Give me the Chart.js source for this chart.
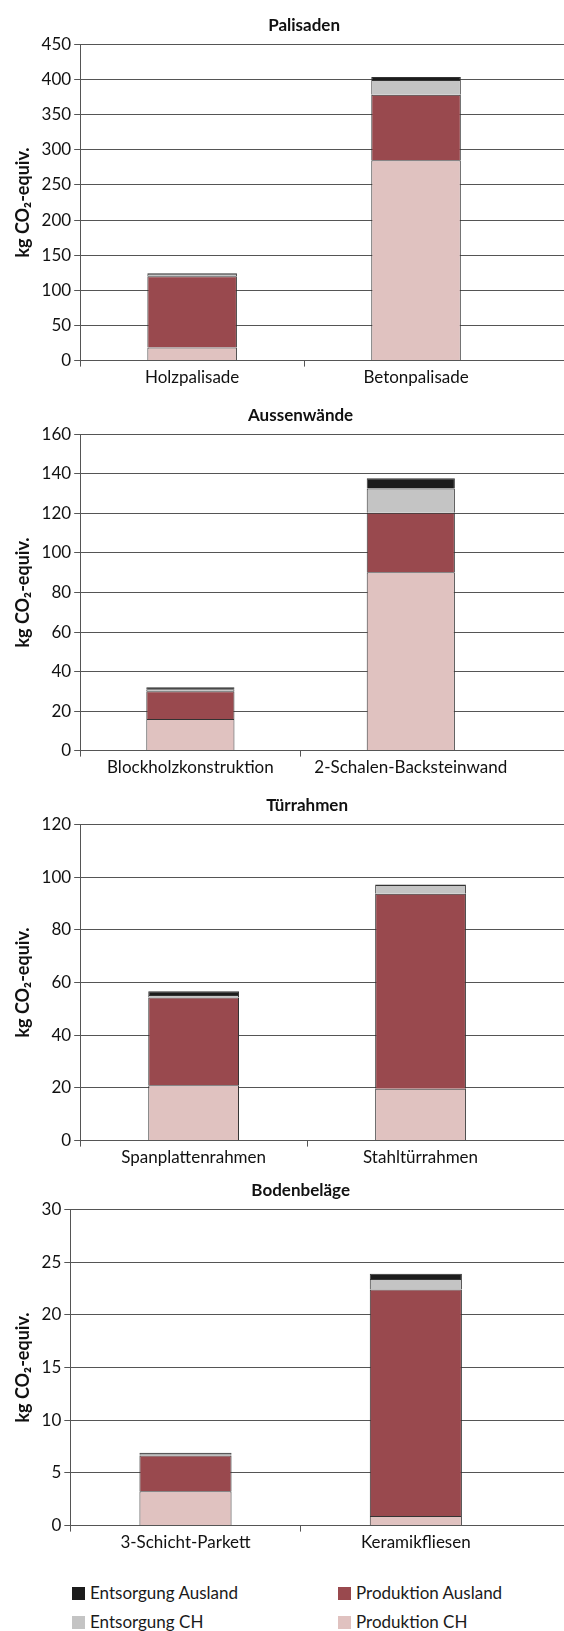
<!DOCTYPE html>
<html>
<head>
<meta charset="utf-8">
<script src="https://cdn.jsdelivr.net/npm/chart.js@4.4.1/dist/chart.umd.min.js"></script>
<style>
body{margin:0;width:564px;height:1631px;overflow:hidden;background:#fff;position:relative}
.box{position:absolute;left:0;width:564px;height:390px}
.leg{position:absolute;font-family:Lato,sans-serif;font-size:17px;color:#1a1a1a;line-height:20px;white-space:nowrap}
.leg span{display:inline-block;width:13px;height:13px;margin-right:5px;vertical-align:-1px}
</style>
</head>
<body>
<div class="box" style="top:0"><canvas id="c1"></canvas></div>
<div class="box" style="top:390px"><canvas id="c2"></canvas></div>
<div class="box" style="top:780px"><canvas id="c3"></canvas></div>
<div class="box" style="top:1165px"><canvas id="c4"></canvas></div>
<div id="legend"></div>
<script>
// series names, bottom to top of the stack
const seriesNames = ['Produktion CH', 'Produktion Ausland', 'Entsorgung CH', 'Entsorgung Ausland'];
const seriesColors = ['#e0c2c0', '#99494e', '#c4c4c4', '#1c1c1c'];

// Palisaden
const palCats = ['Holzpalisade', 'Betonpalisade'];
const palProdCH = [18.5, 285];
const palProdAus = [101.5, 93.5];
const palEntCH = [3.5, 21];
const palEntAus = [1.2, 4];

// Aussenwände
const wandCats = ['Blockholzkonstruktion', '2-Schalen-Backsteinwand'];
const wandProdCH = [16, 90.3];
const wandProdAus = [14, 30];
const wandEntCH = [1, 12.3];
const wandEntAus = [1, 5.2];

// Türrahmen
const tuerCats = ['Spanplattenrahmen', 'Stahltürrahmen'];
const tuerProdCH = [21, 19.7];
const tuerProdAus = [33.3, 74];
const tuerEntCH = [1, 3.3];
const tuerEntAus = [1.4, 0.2];

// Bodenbeläge
const bodenCats = ['3-Schicht-Parkett', 'Keramikfliesen'];
const bodenProdCH = [3.25, 0.9];
const bodenProdAus = [3.4, 21.5];
const bodenEntCH = [0.13, 1.0];
const bodenEntAus = [0.13, 0.5];

const fam = 'Lato, sans-serif';
const gridCol = '#555';

// horizontal grid lines run on past the plot area to the right edge
const gridExtend = {
  id: 'gridExtend',
  beforeDatasetsDraw(chart) {
    const y = chart.scales.y;
    const a = chart.chartArea;
    const ctx = chart.ctx;
    ctx.save();
    ctx.strokeStyle = gridCol;
    ctx.lineWidth = 1;
    y.ticks.forEach(function (t) {
      const py = Math.round(y.getPixelForValue(t.value) - 0.5) + 0.5;
      ctx.beginPath();
      ctx.moveTo(a.right - 1, py);
      ctx.lineTo(chart.width, py);
      ctx.stroke();
    });
    ctx.restore();
  }
};

function makeChart(id, title, cats, yMax, yStep, vals, rightPad) {
  const sets = [];
  for (let i = 0; i < seriesNames.length; i++) {
    sets.push({
      label: seriesNames[i],
      data: vals[i],
      backgroundColor: seriesColors[i],
      borderColor: '#333',
      borderWidth: 1,
      barPercentage: 0.4,
      categoryPercentage: 1
    });
  }
  return new Chart(document.getElementById(id), {
    type: 'bar',
    data: { labels: cats, datasets: sets },
    plugins: [gridExtend],
    options: {
      responsive: true,
      maintainAspectRatio: false,
      animation: false,
      layout: { padding: { left: 0, right: rightPad, top: 0, bottom: 1 } },
      plugins: {
        legend: { display: false },
        tooltip: { enabled: false },
        title: {
          display: true, text: title, fullSize: false, color: '#111',
          font: { family: fam, size: 17, weight: 'bold' },
          padding: { top: 15, bottom: 9 }
        }
      },
      scales: {
        x: {
          stacked: true,
          grid: {
            drawOnChartArea: false, drawTicks: true, tickLength: 6, offset: true,
            color: gridCol,
            // the tick at the far right end is not shown in the original
            tickColor: function (c) { return c.type === 'tick' ? gridCol : 'rgba(0,0,0,0)'; }
          },
          border: { color: gridCol },
          ticks: { font: { family: fam, size: 17 }, color: '#111', padding: 1, maxRotation: 0 }
        },
        y: {
          stacked: true, min: 0, max: yMax,
          ticks: { stepSize: yStep, font: { family: fam, size: 17 }, color: '#111', padding: 3 },
          grid: { color: gridCol, tickLength: 6 },
          border: { color: gridCol },
          title: {
            display: true, text: 'kg CO₂-equiv.', color: '#111',
            font: { family: fam, size: 18, weight: 'bold' },
            padding: { top: 12, bottom: 5 }
          }
        }
      }
    }
  });
}

makeChart('c1', 'Palisaden', palCats, 450, 50, [palProdCH, palProdAus, palEntCH, palEntAus], 36);
makeChart('c2', 'Aussenwände', wandCats, 160, 20, [wandProdCH, wandProdAus, wandEntCH, wandEntAus], 43);
makeChart('c3', 'Türrahmen', tuerCats, 120, 20, [tuerProdCH, tuerProdAus, tuerEntCH, tuerEntAus], 30);
makeChart('c4', 'Bodenbeläge', bodenCats, 30, 5, [bodenProdCH, bodenProdAus, bodenEntCH, bodenEntAus], 33);

// legend, same order as the original: Entsorgung first, columns of two
const legOrder = [3, 1, 2, 0];
const legX = [72, 338];
const legY = [1583, 1612];
const legBox = document.getElementById('legend');
legOrder.forEach(function (s, k) {
  const d = document.createElement('div');
  d.className = 'leg';
  d.style.left = legX[k % 2] + 'px';
  d.style.top = legY[Math.floor(k / 2)] + 'px';
  d.innerHTML = '<span style="background:' + seriesColors[s] + '"></span>' + seriesNames[s];
  legBox.appendChild(d);
});
</script>
</body>
</html>
